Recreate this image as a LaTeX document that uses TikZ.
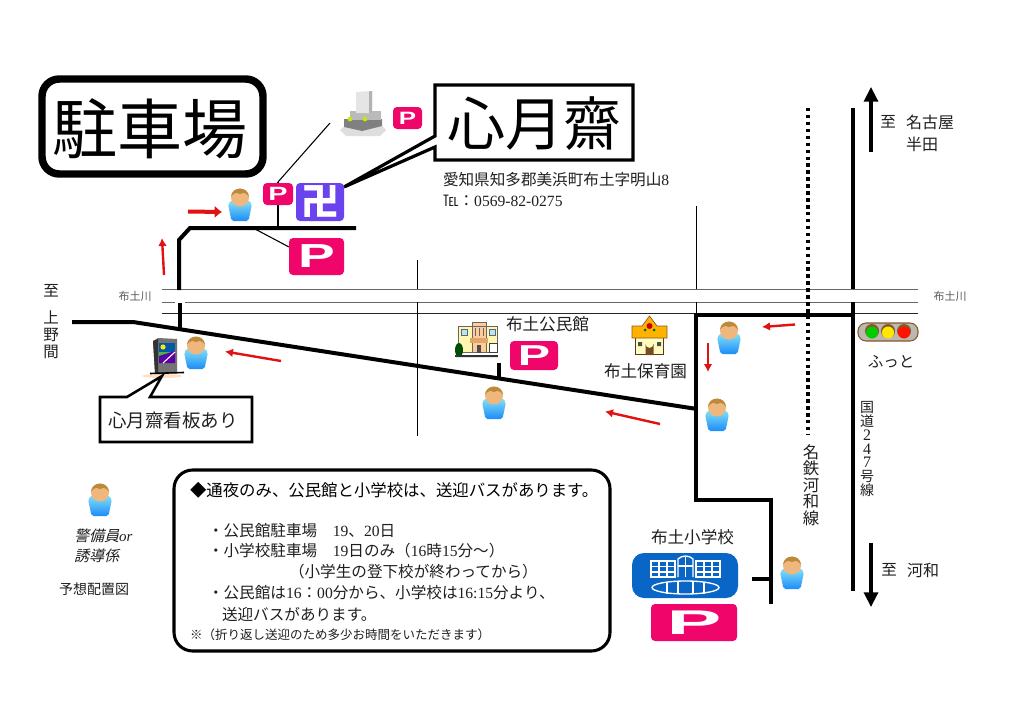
\documentclass[tikz,border=0pt]{standalone}
\usepackage{fontspec}
\usetikzlibrary{arrows.meta}
\setmainfont{Noto Sans CJK JP}
\newfontfamily\cjkslant[FakeSlant=0.25]{Noto Sans CJK JP}
\newfontfamily\serlat{Liberation Serif}
\newfontfamily\serit{Liberation Serif Italic}
\newfontfamily\signfont{Liberation Sans Bold}
\newcommand\fpx[1]{\pgfmathsetmacro\fpxval{#1*0.75}\fontsize{\fpxval}{\fpxval}\selectfont}
\newcommand\fz[1]{\fontsize{#1pt}{#1pt}\selectfont}
\definecolor{pinkP}{HTML}{F0056A}
\definecolor{manji}{HTML}{6A42EE}
\definecolor{schoolblue}{HTML}{0A66C6}
\definecolor{redarrow}{HTML}{E01212}
\definecolor{rivergray}{HTML}{666666}
\definecolor{guardtop}{HTML}{86E2F6}
\definecolor{guardbot}{HTML}{1C8CF8}
\definecolor{guardface}{HTML}{EFB77E}
\definecolor{guardhair}{HTML}{BC8A3A}
\tikzset{
 x=0.75pt,y=-0.75pt,
 road/.style={line width=3pt,line cap=butt,line join=miter},
 thinroad/.style={line width=0.7pt},
 river/.style={line width=0.75pt,draw=rivergray},
 redarr/.style={draw=redarrow,line width=1.8pt,-{Latex[length=6pt,width=6.5pt]}},
 bigredarr/.style={draw=redarrow,line width=3pt,-{Latex[length=5.5pt,width=9.5pt]}},
 bigarr/.style={line width=2.4pt,-{Triangle[length=11pt,width=10.5pt]}},
 txt/.style={inner sep=0pt,outer sep=0pt,anchor=west,text=black!88},
 ctxt/.style={inner sep=0pt,outer sep=0pt,text=black!88},
 vtxt/.style={inner sep=0pt,outer sep=0pt,align=center,text=black!88},
 signtxt/.style={inner sep=0pt,outer sep=0pt,text=white},
}
\newcommand\psign[7]{%
 \fill[pinkP,rounded corners=3pt] (#2,#3) rectangle (#4,#5);
 \node[signtxt,font=\signfont\fz{#6}] (#1) at ({(#2+#4)/2},{(#3+#5)/2}) {\scalebox{#7}[1]{P}};}
\newcommand\guard[3]{%
 \begin{scope}[shift={(#2,#3)}]
  \shade[top color=guardtop,bottom color=guardbot,rounded corners=1.5pt]
    (-8,-5) -- (8,-5) -- (12,-1) -- (8.5,16) -- (-8.5,16) -- (-12,-1) -- cycle;
  \fill[guardface] (0,-7.5) ellipse (9 and 9);
  \fill[guardhair] (-9,-8.5) .. controls (-8,-19) and (8,-19) .. (9,-8.5)
     .. controls (5,-13) and (2,-13) .. (0,-11) .. controls (-2,-13) and (-5,-13) .. (-9,-8.5) -- cycle;
  \coordinate (#1) at (0,0);
 \end{scope}}
\begin{document}
\begin{tikzpicture}
\useasboundingbox (0,0) rectangle (1024,724);
\fill[white] (0,0) rectangle (1024,724);

% rivers
\draw[river] (162,289) -- (918,289);
\draw[river] (162,302) -- (175,302);
\draw[river] (185,302) -- (918,302);
\draw[line width=0.75pt,black!85] (162,313) -- (918,313);
\node[ctxt,text=black!65,font=\fpx{11}] (riverL) at (135,296) {布土川};
\node[ctxt,text=black!65,font=\fpx{11}] (riverR) at (950,296) {布土川};

% thin roads
\draw[thinroad] (417,260) -- (417,289);
\draw[thinroad] (417,302) -- (417,436);
\draw[thinroad] (696,206) -- (696,289);
\draw[thinroad] (696,302) -- (696,313);

% thick roads
\draw[road] (179,290) -- (179,240) -- (190,228) -- (356,228);
\draw[road] (180,303) -- (180,328);
\draw[road] (72,322) -- (133,322) -- (697,409);
\draw[road] (696,313) -- (696,500) -- (771,500) -- (771,604);
\draw[road] (696,314.5) -- (853,314.5);
\draw[road] (853,108) -- (853,289);
\draw[road] (853,302) -- (853,591);
\draw[road] (752,579) -- (771,579);
\draw[road] (499,363) -- (499,378);
\draw[line width=2.6pt,dash pattern=on 2.6pt off 2.6pt] (808,108) -- (808,435);

% thin leader lines
\draw[line width=0.8pt] (330,123) -- (278,182);
\draw[line width=0.8pt] (278,182) -- (278,228);
\draw[line width=0.8pt] (255,229) -- (289,247);

% title
\draw[line width=5.6pt,rounded corners=13pt] (42,79) rectangle (263,174);
\node[ctxt,text=black,font=\fpx{65}] (title) at (150,129) {駐車場};

% temple callout
\draw[line width=2.4pt,fill=white,line join=miter]
  (435,85) -- (633,85) -- (633,160) -- (435,160) -- (435,147) -- (344,187) -- (435,136) -- cycle;
\node[ctxt,text=black,font=\fpx{58}] (temple) at (534,124) {心月齋};
\node[txt,font=\fpx{15.6}] (addr) at (443,180) {愛知県知多郡美浜町布土字明山{\serlat 8}};
\node[txt,font=\fpx{15.6}] (tel) at (443,201) {℡：{\serlat 0569-82-0275}};

% grave icon
\fill[black!13] (340,130) -- (346,125) -- (381,125) -- (386,130) -- (380,136) -- (346,136) -- cycle;
\fill[black!50] (344,119) -- (382,119) -- (382,126) -- (362,131) -- (344,127) -- cycle;
\fill[black!27] (350,111) -- (381,111) -- (381,120) -- (350,120) -- cycle;
\fill[black!10] (356,92) -- (372,91) -- (372,113) -- (356,113) -- cycle;
\fill[black!30] (369,91.5) -- (372,91) -- (372,113) -- (369,113) -- cycle;
\fill[yellow!80!green] (350,119) circle (2.4);
\fill[yellow!80!green] (365,119) circle (2.4);
\psign{pTemple}{393}{107}{422}{129}{13.4}{1.45}

% signs near temple
\psign{pSmall}{263}{183}{293}{205}{14.4}{1.5}
\fill[manji,rounded corners=3pt] (296,183) rectangle (344,221);
\node[signtxt,font=\bfseries\fpx{38}] (manjisign) at (320,201.5) {卍};
\psign{pBig}{289}{238}{344}{275}{25}{1.65}

% billboard icon
\fill[orange!25] (162,376) ellipse (20 and 2);
\fill[black!55] (153,341) -- (158,338) -- (177,339) -- (177,373) -- (155,373) -- cycle;
\fill[black!80] (153,341) -- (158,339) -- (158,373) -- (155,373) -- cycle;
\fill[teal!70!blue] (159,343) rectangle (175,352);
\fill[yellow!90!orange] (163,347) circle (2.6);
\fill[green!40!gray] (159,352) rectangle (175,356);
\fill[violet!70!blue] (159,356) -- (175,351) -- (175,363) -- (159,363) -- cycle;
\draw[white,line width=0.8pt] (163,363) -- (175,352);
\draw[line width=1.2pt] (150,373.5) -- (184,372.5);

% billboard callout
\draw[line width=1.9pt,fill=white,line join=miter]
  (100,397) -- (127,397) -- (162,376) -- (150,397) -- (252,397) -- (252,442) -- (100,442) -- cycle;
\node[txt,font=\fpx{18.5}] (boardlbl) at (108,420) {心月齋看板あり};

% to Ueno
\node[ctxt,font=\fpx{15.5}] (toL) at (51,291) {至};
\node[vtxt,font=\fontsize{11.6}{12.6}\selectfont] (ueno) at (51,334.5) {上\\野\\間};

% guards
\guard{g1}{240}{205}
\guard{g2}{196}{353}
\guard{g3}{494}{403}
\guard{g4}{729}{338}
\guard{g5}{717}{415}
\guard{g6}{792}{573}
\guard{g7}{100}{500}

% red arrows
\draw[bigredarr] (188,211.5) -- (222,212);
\draw[redarr] (164,275) -- (162,238);
\draw[redarr] (281,361) -- (225,351.5);
\draw[redarr] (660,424) -- (605,411.5);
\draw[redarr] (708,343) -- (708,372);
\draw[redarr] (795,324.5) -- (762,327);

% kominkan icon
\fill[black!10] (456,356) rectangle (498,358);
\fill[orange!25!yellow!30] (458,326) rectangle (497,352);
\fill[orange!40!white] (472,322) rectangle (486,352);
\draw[black!60,line width=0.5pt] (458,326) rectangle (497,352);
\draw[black!60,line width=0.5pt] (472,322) rectangle (486,352);
\fill[cyan!30] (461,329) rectangle (467,335);
\fill[cyan!30] (489,329) rectangle (495,335);
\draw[black!60,line width=0.4pt] (461,329) rectangle (467,335) (489,329) rectangle (495,335);
\draw[black!60,line width=0.4pt] (475,328) -- (475,336) (479,328) -- (479,336) (483,328) -- (483,336);
\fill[orange!30!brown!70] (470,338) rectangle (488,343);
\fill[black!70] (477,345) rectangle (481,353);
\fill[black!70!green] (459,350) ellipse (4 and 7);
\fill[black!80] (455,355) rectangle (498,357);
\draw[black!75,fill=white,line width=0.6pt] (489,343) rectangle (497,352);
\node[txt,font=\fpx{16.6}] (komin) at (506,324) {布土公民館};
\psign{pKomin}{510}{341}{558}{370}{21.6}{1.68}

% hoikuen icon
\fill[brown!45!black] (635,337) rectangle (664,355);
\fill[yellow!25] (636,337) rectangle (663,353.5);
\fill[orange!60!yellow,draw=brown!70!black,line width=0.5pt]
   (632,338) -- (632,326) -- (642,326) -- (649.5,316) -- (657,326) -- (667,326) -- (667,338) -- cycle;
\fill[red!80!black] (649.5,326) circle (3);
\fill[green!40!black] (645,330) circle (1.5) (654,330) circle (1.5);
\fill[brown!60!black] (645.5,355) -- (645.5,344) arc (180:0:4) -- (653.5,355) -- cycle;
\fill[black!70] (638,342) rectangle (642,346) (657,342) rectangle (661,346);
\node[txt,font=\fpx{16.6}] (hoiku) at (604,371) {布土保育園};

% school
\node[ctxt,font=\fpx{16.6}] (school) at (692.5,537) {布土小学校};
\fill[schoolblue,rounded corners=9pt] (632,553) rectangle (738,598);
\begin{scope}[draw=white,line width=1pt]
 \draw (651,561) rectangle (675,577);
 \draw (651,566.5) -- (675,566.5) (651,572) -- (675,572) (659,561) -- (659,577) (667,561) -- (667,577);
 \draw (696,561) rectangle (720,577);
 \draw (696,566.5) -- (720,566.5) (696,572) -- (720,572) (704,561) -- (704,577) (712,561) -- (712,577);
 \draw (678,577) -- (678,559) .. controls (682,555) and (689,555) .. (693,559) -- (693,577);
 \draw (685.5,557) -- (685.5,577) (678,566) -- (693,566);
 \draw (685.5,587.5) ellipse (33.5 and 6.5);
 \draw (667,581.5) -- (667,593.5) (678,581) -- (678,594) (693,581) -- (693,594) (704,581.5) -- (704,593.5);
\end{scope}
\psign{pSchool}{651}{604}{737}{641}{25.7}{2.4}

% road and rail labels
\node[vtxt,font=\fontsize{12.3}{12.4}\selectfont] (rail) at (811,485) {名\\鉄\\河\\和\\線};
\node[vtxt,font=\fontsize{10.5}{10.35}\selectfont] (route) at (867,449) {国\\道\\{\serlat\fontsize{12}{10.35}\selectfont 2}\\{\serlat\fontsize{12}{10.35}\selectfont 4}\\{\serlat\fontsize{12}{10.35}\selectfont 7}\\号\\線};

% direction arrows
\draw[bigarr] (871,152) -- (871,87);
\draw[bigarr] (871,543) -- (871,607);
\node[ctxt,font=\fpx{15.5}] (toN) at (888,122) {至};
\node[txt,font=\fpx{16}] (nagoya) at (906,122) {名古屋};
\node[txt,font=\fpx{16}] (handa) at (906,144) {半田};
\node[ctxt,font=\fpx{15.5}] (toS) at (889,570) {至};
\node[txt,font=\fpx{16}] (kowa) at (907,570) {河和};

% traffic light
\draw[draw=brown!70!black,fill=black!20!orange!12!gray!55,line width=0.8pt,rounded corners=6pt] (858,323) rectangle (918,341);
\fill[brown!70!black] (872,331) circle (7) (888,331) circle (7) (904,331) circle (7);
\fill[green!80!black] (872,332.5) circle (6);
\fill[yellow!90!orange] (888,332.5) circle (6);
\fill[red!85!orange] (904,332.5) circle (6);
\node[ctxt,font=\fpx{15.5}] (foot) at (891,362) {ふっと};

% legend
\node[txt,font=\cjkslant\fpx{15}] (leg1) at (74,536) {警備員{\serit or}};
\node[txt,font=\cjkslant\fpx{15}] (leg2) at (74,556) {誘導係};
\node[txt,font=\fpx{14}] (leg3) at (59,589) {予想配置図};

% info box
\draw[line width=2.3pt,fill=white,rounded corners=14pt] (174,470) rectangle (610,651);
\node[txt,text=black,font=\fpx{16.4}] (i1) at (190,490) {◆通夜のみ、公民館と小学校は、送迎バスがあります。};
\node[txt,font=\fpx{15.6}] (i2) at (208,531) {・公民館駐車場　{\serlat 19}、{\serlat 20}日};
\node[txt,font=\fpx{15.6}] (i3) at (208,551) {・小学校駐車場　{\serlat 19}日のみ（{\serlat 16}時{\serlat 15}分～）};
\node[txt,font=\fpx{15.6}] (i4) at (289,572) {（小学生の登下校が終わってから）};
\node[txt,font=\fpx{15.6}] (i5) at (208,593) {・公民館は{\serlat 16}：{\serlat 00}分から、小学校は{\serlat 16:15}分より、};
\node[txt,font=\fpx{15.6}] (i6) at (222,614) {送迎バスがあります。};
\node[txt,font=\fpx{12.5}] (i7) at (190,635) {※（折り返し送迎のため多少お時間をいただきます）};
\end{tikzpicture}
\end{document}
